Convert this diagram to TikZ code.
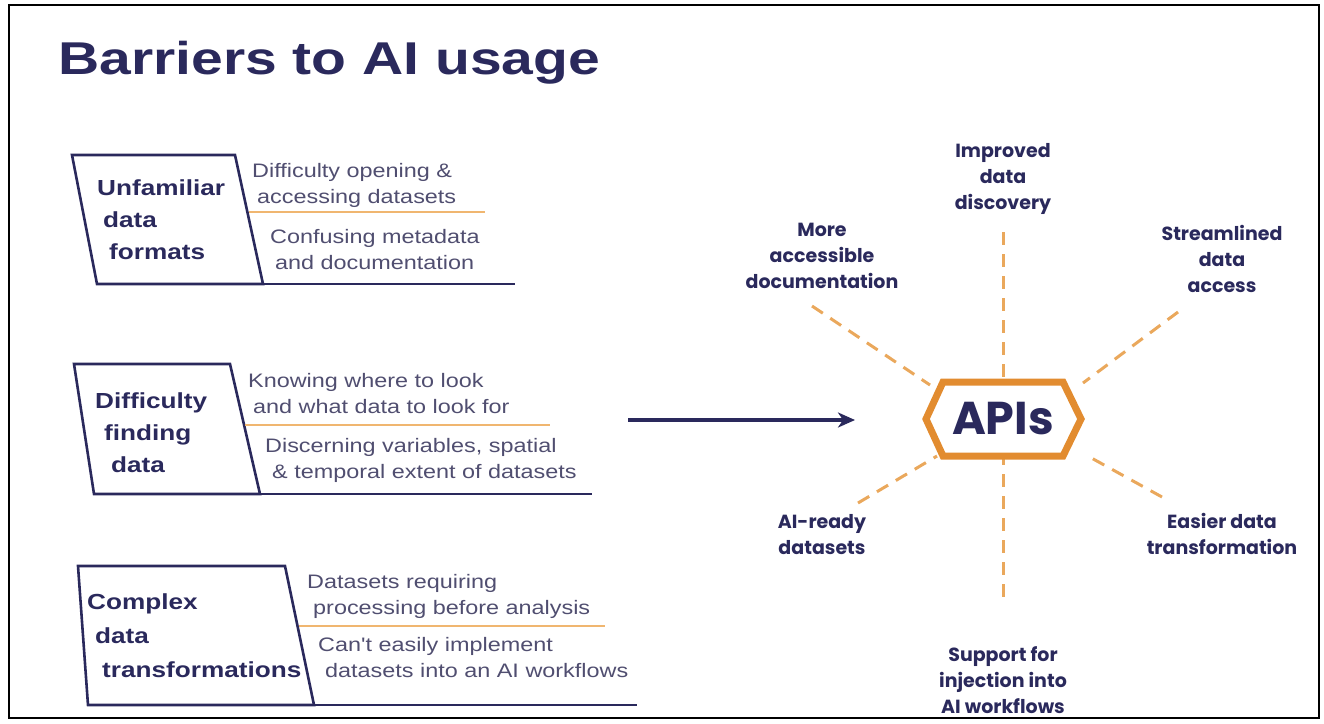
\documentclass[tikz,border=0pt]{standalone}
\usepackage{fontspec}
\setmainfont{Liberation Sans}
\newfontfamily\widefont[FakeStretch=1.2]{Liberation Sans}
\newfontfamily\titlefont[FakeStretch=1.24]{Liberation Sans}
\newfontfamily\roundfont{Poppins}
\usetikzlibrary{arrows,arrows.meta}

\definecolor{navy}{RGB}{42,41,92}
\definecolor{inkgray}{RGB}{80,78,112}
\definecolor{apiorange}{RGB}{226,140,48}
\definecolor{dashorange}{RGB}{234,168,92}
\definecolor{rulerorange}{RGB}{240,182,112}

\begin{document}
\begin{tikzpicture}
[x=1pt,y=-1pt,>=stealth',
 frame/.style={line width=1.2pt,black},
 box/.style={line width=2.6pt,draw=navy,line join=miter},
 ruler/.style={line width=1.4pt,draw=rulerorange},
 barrier/.style={anchor=base west,inner sep=0pt,align=left,text=navy,
   font=\widefont\bfseries\fontsize{21.8}{32}\selectfont},
 detail/.style={anchor=base west,inner sep=0pt,align=left,text=inkgray,
   font=\widefont\fontsize{19.5}{26}\selectfont},
 benefit/.style={anchor=base,inner sep=0pt,align=center,text=navy,
   font=\roundfont\bfseries\fontsize{19}{26}\selectfont},
 spoke/.style={line width=3pt,draw=dashorange,dash pattern=on 13pt off 9pt},
 hexa/.style={line width=7pt,draw=apiorange,fill=white,line join=miter},
 flow/.style={-{Stealth[length=17pt,width=15pt,inset=5pt]},line width=3.4pt,draw=navy}]

  \useasboundingbox (0,0) rectangle (1324,723);
  \draw[frame] (9,5) rectangle (1319,718);

  \node[anchor=base west,inner sep=0pt,text=navy,
        font=\titlefont\bfseries\fontsize{46}{50}\selectfont] (title) at (58,74) {Barriers to AI usage};

  % barrier boxes
  \draw[box] (72,155) -- (235,155) -- (263,284) -- (97,284) -- cycle;
  \draw[box] (97,284) -- (515,284);
  \draw[ruler] (249,212) -- (485,212);

  \draw[box] (74,364) -- (230,364) -- (260,494) -- (94,494) -- cycle;
  \draw[box] (94,494) -- (592,494);
  \draw[ruler] (245,425) -- (550,425);

  \draw[box] (78,566) -- (285,566) -- (314,705) -- (88,705) -- cycle;
  \draw[box] (88,705) -- (637,705);
  \draw[ruler] (299,626) -- (605,626);

  % base anchor sits on the last line
  \node[barrier] (formats) at (97,259) {Unfamiliar\\\hspace*{6pt}data\\\hspace*{12pt}formats};
  \node[detail] (opening) at (252,203) {Difficulty opening \&\\\hspace*{5pt}accessing datasets};
  \node[detail] (metadata) at (270,269) {Confusing metadata\\\hspace*{5pt}and documentation};

  \node[barrier] (finding) at (95,472) {Difficulty\\\hspace*{9pt}finding\\\hspace*{16pt}data};
  \node[detail] (where) at (248,413) {Knowing where to look\\\hspace*{5pt}and what data to look for};
  \node[detail] (extent) at (265,478) {Discerning variables, spatial\\\hspace*{7pt}\& temporal extent of datasets};

  \node[barrier,font=\widefont\bfseries\fontsize{21.8}{34}\selectfont] (complex) at (87,677)
        {Complex\\\hspace*{8pt}data\\\hspace*{15pt}transformations};
  \node[detail] (requiring) at (307,614) {Datasets requiring\\\hspace*{6pt}processing before analysis};
  \node[detail] (implement) at (318,677) {Can't easily implement\\\hspace*{7pt}datasets into an AI workflows};

  % flow to the APIs
  \coordinate (flowStart) at (628,420);
  \coordinate (flowEnd) at (855,420);
  \draw[flow] (flowStart) -- (flowEnd);

  % spokes
  \coordinate (topEnd) at (1003,232);
  \coordinate (bottomEnd) at (1003,598);
  \coordinate (moreEnd) at (812,306);
  \coordinate (moreHex) at (930,385);
  \coordinate (streamEnd) at (1178,312);
  \coordinate (streamHex) at (1083,383);
  \coordinate (easierEnd) at (1162,497);
  \coordinate (easierHex) at (1086,455);
  \coordinate (readyEnd) at (858,503);
  \coordinate (readyHex) at (937,456);
  \draw[spoke] (topEnd) -- (bottomEnd);
  \draw[spoke] (moreEnd) -- (moreHex);
  \draw[spoke] (streamEnd) -- (streamHex);
  \draw[spoke] (easierEnd) -- (easierHex);
  \draw[spoke] (readyEnd) -- (readyHex);

  \draw[hexa] (926,419) -- (943,382) -- (1063,382) -- (1081,419) -- (1063,456) -- (943,456) -- cycle;
  \node[inner sep=0pt,text=navy,font=\roundfont\bfseries\fontsize{46}{50}\selectfont] (apis) at (1003,419) {APIs};

  \node[benefit] (discovery) at (1003,209) {Improved\\data\\discovery};
  \node[benefit] (documentation) at (822,288) {More\\accessible\\documentation};
  \node[benefit] (access) at (1222,292) {Streamlined\\data\\access};
  \node[benefit] (ready) at (822,554) {AI-ready\\datasets};
  \node[benefit] (transformation) at (1222,554) {Easier data\\transformation};
  \node[benefit] (injection) at (1003,713) {Support for\\injection into\\AI workflows};
\end{tikzpicture}
\end{document}
